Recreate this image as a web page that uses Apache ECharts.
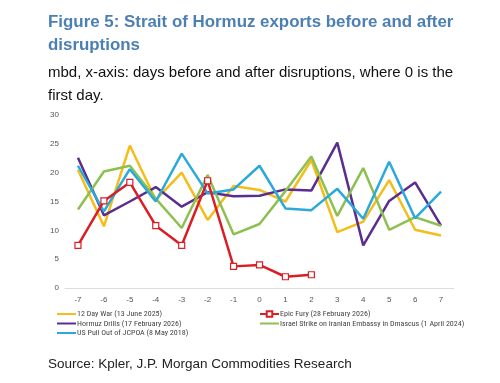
<!DOCTYPE html>
<html><head><meta charset="utf-8">
<script src="https://cdn.jsdelivr.net/npm/echarts@6/dist/echarts.min.js"></script>
<style>html,body{margin:0;padding:0;background:#fff}#c{width:500px;height:383px}</style>
</head><body><div id="c"></div>
<script>
const days = ['-7','-6','-5','-4','-3','-2','-1','0','1','2','3','4','5','6','7'];
const yTicks = [0,5,10,15,20,25,30];
const twelveDayWar = [20.5,10.7,24.7,15.3,20.0,11.8,17.7,17.0,15.0,22.2,9.7,11.5,18.7,10.1,9.1];
const epicFury = [7.4,15.1,18.3,10.8,7.4,18.6,3.75,4.0,1.95,2.3];
const hormuzDrills = [22.6,12.6,15.0,17.5,14.1,16.6,15.9,16.0,17.1,16.9,25.2,7.4,15.1,18.3,10.8];
const israelStrike = [13.6,20.2,21.2,15.5,10.4,19.6,9.3,11.1,16.8,22.8,12.5,20.8,10.1,12.3,10.8];
const usPullOut = [21.2,13.3,20.6,15.0,23.3,16.4,17.1,21.2,13.8,13.5,17.2,12.0,21.9,12.1,16.7];

const names = ['12 Day War (13 June 2025)','Epic Fury (28 February 2026)','Hormuz Drills (17 February 2026)','Israel Strike on Iranian Embassy in Dmascus (1 April 2024)','US Pull Out of JCPOA (8 May 2018)'];
const colors = ['#F4BD1A','#D91E25','#5B2D8E','#8DC050','#2AA9DA'];
const datas = [twelveDayWar, epicFury, hormuzDrills, israelStrike, usPullOut];

const chart = echarts.init(document.getElementById('c'));
const series = datas.map((d,i)=>({
  name: names[i], type:'line', data:d, color: colors[i],
  lineStyle:{width:2.5, color: colors[i]},
  symbol: i===1 ? 'rect' : 'none', symbolSize: 6,
  itemStyle: i===1 ? {color:'#fff', borderColor: colors[i], borderWidth:1.2} : {color: colors[i]},
  z: i===1 ? 5 : 2
}));
const legendItem = (i) => i===1 ? {name:names[i]} : {name:names[i], itemStyle:{opacity:0}};
const legendCommon = {orient:'vertical', itemWidth:19, itemHeight:7, itemGap:1.5,
  textStyle:{fontSize:8, color:'#444', fontFamily:'Roboto Condensed', padding:[0,0,0,-4]}, padding:0};
chart.setOption({
  animation:false,
  title:[
    {text:'Figure 5: Strait of Hormuz exports before and after\ndisruptions', left:43, top:6,
     textStyle:{fontFamily:'Liberation Sans', fontWeight:'bold', fontSize:16.9, color:'#4C80B4', lineHeight:23}},
    {text:'mbd, x-axis: days before and after disruptions, where 0 is the\nfirst day.', left:43, top:57,
     textStyle:{fontFamily:'Liberation Sans', fontWeight:'normal', fontSize:15, color:'#111', lineHeight:22.5}},
    {text:'Source: Kpler, J.P. Morgan Commodities Research', left:43, top:352,
     textStyle:{fontFamily:'Liberation Sans', fontWeight:'normal', fontSize:13.5, color:'#222'}}
  ],
  grid:{left:65, right:46, top:115, bottom:95, containLabel:false},
  legend:[
    Object.assign({left:56, top:310, data:[0,2,4].map(legendItem)}, legendCommon),
    Object.assign({left:259, top:310, data:[1,3].map(legendItem)}, legendCommon)
  ],
  xAxis:{type:'category', data:days, boundaryGap:true,
    axisLine:{lineStyle:{color:'#ddd'}}, axisTick:{lineStyle:{color:'#ddd'}},
    axisLabel:{fontSize:8, color:'#555', fontFamily:'Liberation Sans', margin:8}},
  yAxis:{type:'value', min:yTicks[0], max:yTicks[yTicks.length-1], interval:5,
    splitLine:{show:false}, axisLine:{show:false}, axisTick:{show:false},
    axisLabel:{fontSize:8, color:'#555', fontFamily:'Liberation Sans', margin:6}},
  series
});
</script></body></html>
